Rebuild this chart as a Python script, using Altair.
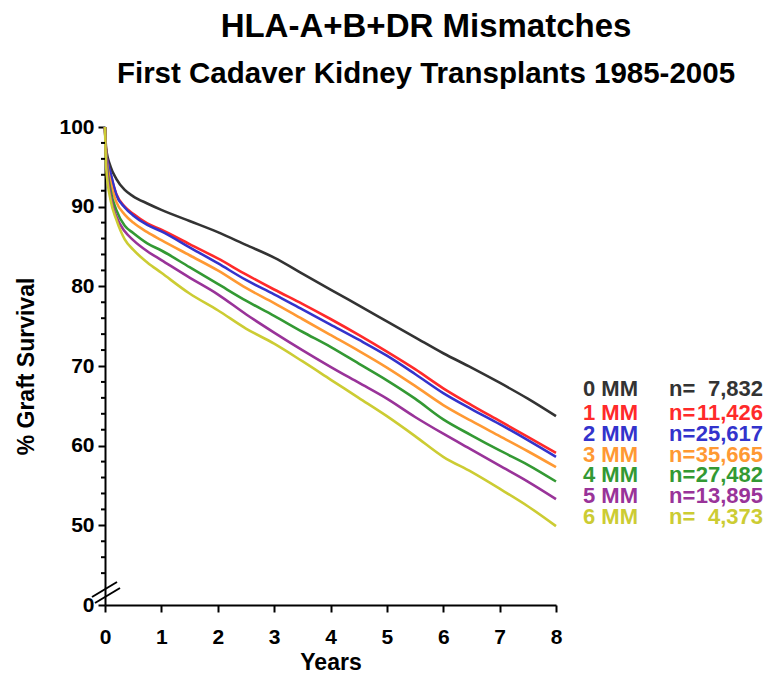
import altair as alt
import pandas as pd

# ---------------- data ----------------
years = [0, 0.02, 0.1, 0.2, 0.35, 0.5, 0.75, 1, 1.5, 2, 2.5, 3, 3.5, 4, 4.5, 5, 5.5, 6, 6.5, 7, 7.5, 8]
mm0 = [100, 97.3, 95.0, 93.5, 92.1, 91.3, 90.4, 89.6, 88.2, 86.8, 85.2, 83.6, 81.6, 79.6, 77.6, 75.6, 73.6, 71.6, 69.8, 67.9, 65.9, 63.7]
mm1 = [100, 96.8, 94.0, 91.6, 90.0, 89.1, 87.9, 87.1, 85.3, 83.5, 81.5, 79.6, 77.8, 75.9, 73.9, 71.8, 69.6, 67.2, 65.1, 63.1, 61.1, 59.1]
mm2 = [100, 96.7, 94.2, 91.5, 89.9, 88.9, 87.7, 86.9, 84.9, 82.9, 80.8, 79.0, 77.1, 75.2, 73.3, 71.3, 69.0, 66.6, 64.6, 62.7, 60.7, 58.6]
mm3 = [100, 96.6, 93.0, 90.6, 89.0, 88.0, 86.8, 85.8, 83.9, 82.0, 79.8, 77.9, 75.9, 73.9, 71.9, 69.8, 67.5, 65.1, 63.1, 61.2, 59.3, 57.3]
mm4 = [100, 96.4, 92.0, 89.6, 87.6, 86.7, 85.4, 84.5, 82.4, 80.3, 78.2, 76.3, 74.3, 72.4, 70.3, 68.2, 65.9, 63.3, 61.3, 59.4, 57.6, 55.5]
mm5 = [100, 96.2, 91.3, 88.8, 86.9, 85.8, 84.4, 83.3, 81.1, 79.0, 76.5, 74.2, 72.0, 69.9, 67.9, 65.9, 63.6, 61.5, 59.5, 57.5, 55.5, 53.3]
mm6 = [100, 95.0, 90.8, 88.4, 85.9, 84.6, 83.0, 81.7, 79.1, 77.0, 74.7, 72.8, 70.6, 68.3, 66.0, 63.7, 61.2, 58.6, 56.7, 54.6, 52.4, 49.9]

groups = ["0 MM", "1 MM", "2 MM", "3 MM", "4 MM", "5 MM", "6 MM"]
counts = ["7,832", "11,426", "25,617", "35,665", "27,482", "13,895", "4,373"]
colors = ["#333333", "#ff2a2a", "#3333cc", "#ff9933", "#339933", "#993399", "#cccc33"]

x_ticks = [0, 1, 2, 3, 4, 5, 6, 7, 8]
y_ticks = [40, 50, 60, 70, 80, 90, 100]      # 40 is shown as "0" (broken axis)
y_minor = [44, 46, 48, 52, 54, 56, 58, 62, 64, 66, 68, 72, 74, 76, 78,
           82, 84, 86, 88, 92, 94, 96, 98]

title_text = "HLA-A+B+DR Mismatches"
subtitle_text = "First Cadaver Kidney Transplants 1985-2005"

# ---------------- tables ----------------
series = [mm0, mm1, mm2, mm3, mm4, mm5, mm6]
rows = []
for g, vals in zip(groups, series):
    for t, v in zip(years, vals):
        rows.append({"t": t, "v": v, "group": g})
df = pd.DataFrame(rows)

leg = pd.DataFrame({"group": groups, "n": counts, "row": list(range(len(groups)))})
minor_df = pd.DataFrame({"v": y_minor})

# ---------------- layout ----------------
W, H = 451, 478
PAD_L, PAD_T = 97, 119
PAD_R = 760 - PAD_L - W
PAD_B = 666 - PAD_T - H
FONT = "Liberation Sans, Arial, Helvetica, sans-serif"

color_scale = alt.Scale(domain=groups, range=colors)
x_scale = alt.Scale(domain=[0, 8], nice=False)
y_scale = alt.Scale(domain=[40, 100], nice=False, zero=False)

lines = alt.Chart(df).mark_line(strokeWidth=2.6, interpolate="monotone").encode(
    x=alt.X("t:Q", scale=x_scale,
            axis=alt.Axis(values=x_ticks, title="Years", format="d",
                          labelFlush=False, labelPadding=14, titlePadding=4)),
    y=alt.Y("v:Q", scale=y_scale,
            axis=alt.Axis(values=y_ticks, title="% Graft Survival",
                          labelExpr="datum.value == 40 ? '0' : datum.label",
                          labelFlush=False, labelPadding=4, titlePadding=20)),
    color=alt.Color("group:N", scale=color_scale, legend=None),
    detail="group:N",
)

minor = alt.Chart(minor_df).mark_rule(color="black", strokeWidth=2).encode(
    y=alt.Y("v:Q", scale=y_scale),
    x=alt.value(-4),
    x2=alt.value(0),
)

brk1 = alt.Chart(pd.DataFrame({"k": [0]})).mark_rule(color="black", strokeWidth=2).encode(
    x=alt.value(-13), x2=alt.value(12), y=alt.value(470), y2=alt.value(455))
brk2 = alt.Chart(pd.DataFrame({"k": [0]})).mark_rule(color="black", strokeWidth=2).encode(
    x=alt.value(-10), x2=alt.value(15), y=alt.value(476), y2=alt.value(461))

# legend text rows, positioned below one another
leg_y = "datum.row == 0 ? 262 : 286 + (datum.row - 1) * 20.8"
leg_base = alt.Chart(leg).transform_calculate(py=leg_y)
LEG_FS = 22
leg_mm = leg_base.mark_text(align="left", baseline="middle", font=FONT,
                            fontSize=LEG_FS, fontWeight="bold").encode(
    x=alt.value(478), y=alt.Y("py:Q", scale=None), text="group:N",
    color=alt.Color("group:N", scale=color_scale, legend=None))
leg_eq = leg_base.mark_text(align="left", baseline="middle", font=FONT,
                            fontSize=LEG_FS, fontWeight="bold", text="n=").encode(
    x=alt.value(564), y=alt.Y("py:Q", scale=None),
    color=alt.Color("group:N", scale=color_scale, legend=None))
leg_n = leg_base.mark_text(align="right", baseline="middle", font=FONT,
                           fontSize=LEG_FS, fontWeight="bold").encode(
    x=alt.value(658), y=alt.Y("py:Q", scale=None), text="n:N",
    color=alt.Color("group:N", scale=color_scale, legend=None))

t1 = alt.Chart(pd.DataFrame({"s": [title_text]})).mark_text(
    align="center", baseline="alphabetic", font=FONT, fontSize=33,
    fontWeight="bold", color="black").encode(
    text="s:N", x=alt.value(321), y=alt.value(-90))
t2 = alt.Chart(pd.DataFrame({"s": [subtitle_text]})).mark_text(
    align="center", baseline="alphabetic", font=FONT, fontSize=29.5,
    fontWeight="bold", color="black").encode(
    text="s:N", x=alt.value(321), y=alt.value(-44))

chart = alt.layer(lines, minor, brk1, brk2, leg_mm, leg_eq, leg_n, t1, t2).properties(
    width=W, height=H,
    background="white",
    autosize=alt.AutoSizeParams(type="none"),
    padding={"left": PAD_L, "top": PAD_T, "right": PAD_R, "bottom": PAD_B},
).configure_view(stroke=None).configure_axis(
    grid=False,
    domainColor="black", domainWidth=2,
    tickColor="black", tickWidth=2, tickSize=7,
    labelFont=FONT, labelFontSize=21, labelFontWeight="bold", labelColor="black",
    titleFont=FONT, titleFontSize=23, titleFontWeight="bold", titleColor="black",
)

chart.save("out.html", embed_options={"renderer": "svg", "actions": False})
